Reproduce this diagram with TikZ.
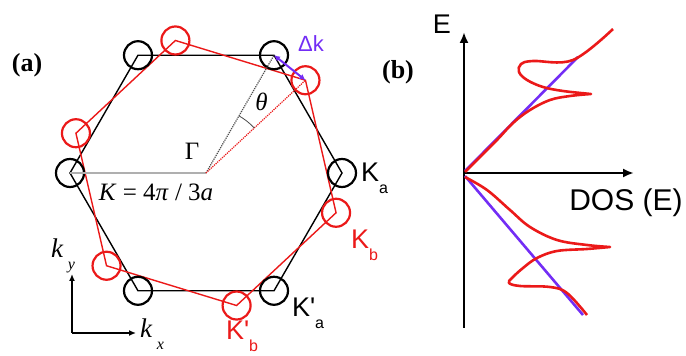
\documentclass[tikz,border=0pt]{standalone}
\usepackage{fontspec}
\setmainfont{Liberation Serif}
\newfontfamily\arialfont{Liberation Sans}
\usetikzlibrary{calc,arrows.meta}
\definecolor{kred}{RGB}{235,25,25}
\definecolor{kviolet}{RGB}{115,45,245}
\definecolor{kgray}{RGB}{175,175,175}
\newcommand\lowsub[1]{\raisebox{-0.42em}{\fontsize{16}{16}\selectfont #1}}

\begin{document}
\begin{tikzpicture}[x=1pt,y=1pt,every node/.style={inner sep=0pt,outer sep=0pt},
kring/.style={circle,draw,line width=2.2pt,minimum size=28pt},
sanslbl/.style={font=\arialfont\fontsize{27}{27}\selectfont},
seriflbl/.style={font=\fontsize{25}{25}\selectfont},
panellbl/.style={font=\bfseries\fontsize{26}{26}\selectfont},
axis/.style={line width=2.4pt,-{Latex[length=11pt,width=9pt]}},
kaxis/.style={line width=1.4pt,-{Latex[length=7pt,width=6pt]}}]
\useasboundingbox (0,0) rectangle (686,356);
\coordinate (G) at (206,183);
\foreach \i in {0,...,5} {
\coordinate (A\i) at ($(G)+({60*\i}:136)$);
\coordinate (B\i) at ($(G)+({60*\i+43}:136)$);
}
\draw[line width=1.4pt] (A0) \foreach \i in {1,...,5} {-- (A\i)} -- cycle;
\draw[kred,line width=1.4pt] (B0) \foreach \i in {1,...,5} {-- (B\i)} -- cycle;
\foreach \i in {0,...,5} {
\node[kring] (ringA\i) at (A\i) {};
\node[kring,kred] (ringB\i) at (B\i) {};
}
\draw[kgray,line width=1.3pt] (A3) -- (G);
\draw[black!70,line width=1.2pt,densely dotted] (G) -- (A1);
\draw[kred,line width=1.2pt,densely dotted] (G) -- (B0);
\draw[black!70,line width=0.8pt] ($(G)+(43:66)$) arc (43:60:66);
\draw[kviolet,line width=2pt,{Latex[length=6pt,width=6pt]}-{Latex[length=6pt,width=6pt]}] (A1) -- (B0);
\node[seriflbl] (Gamma) at (192,205) {Γ};
\node[seriflbl,font=\itshape\fontsize{25}{25}\selectfont] (theta) at ($(G)+(52:90)$) {θ};
\node[seriflbl] (Klen) at (156,164) {\textit{K} = 4\textit{π} / 3\textit{a}};
\node[sanslbl,kviolet,font=\arialfont\fontsize{22}{22}\selectfont] (dk) at (311,312) {Δk};
\node[sanslbl,anchor=base west] (Ka) at (361,174) {K\lowsub{a}};
\node[sanslbl,kred,anchor=base west] (Kb) at (351,107) {K\lowsub{b}};
\node[sanslbl,anchor=base west] (Kpa) at (292,39) {K'\lowsub{a}};
\node[sanslbl,kred,anchor=base west] (Kpb) at (226,16) {K'\lowsub{b}};
\coordinate (O) at (72,23);
\coordinate (kytip) at (72,82);
\coordinate (kxtip) at (136,23);
\draw[kaxis] (O) -- (kytip);
\draw[kaxis] (O) -- (kxtip);
\node[seriflbl,font=\fontsize{27}{27}\selectfont,anchor=base west] (ky) at (51,98) {\textit{k}\,\lowsub{\textit{y}}};
\node[seriflbl,font=\fontsize{27}{27}\selectfont,anchor=base west] (kx) at (140,18) {\textit{k}\,\lowsub{\textit{x}}};
\node[panellbl] (pa) at (27,291) {(a)};
\node[panellbl] (pb) at (398,284) {(b)};
\coordinate (O2) at (464,183);
\coordinate (Ebot) at (464,28);
\coordinate (Etop) at (464,324);
\coordinate (Dtip) at (634,183);
\draw[axis] (Ebot) -- (Etop);
\draw[axis] (O2) -- (Dtip);
\node[sanslbl] (E) at (442,332) {E};
\node[sanslbl,font=\arialfont\fontsize{30}{30}\selectfont] (dos) at (626,153) {DOS (E)};
\draw[kviolet,line width=2.6pt] (465,185) -- (578,299);
\draw[kviolet,line width=2.6pt] (465,180) -- (583,41);
\draw[kred,line width=2.6pt,line join=round] plot[smooth,tension=0.6] coordinates {(465,184) (480,199) (497,216) (513,233) (530,246) (550,256) (570,260) (591,262)}
-- plot[smooth,tension=0.6] coordinates {(591,262) (563,265) (543,269) (527,276) (519,284) (521,292) (533,295) (573,296) (613,327)};
\draw[kred,line width=2.6pt,line join=round] plot[smooth,tension=0.6] coordinates {(465,179) (487,166) (510,146) (530,129) (557,116) (587,111) (610,109)}
-- plot[smooth,tension=0.6] coordinates {(610,109) (587,107) (557,105) (537,98) (523,88) (512,78) (509,73) (520,70) (550,69) (567,63) (587,41)};
\end{tikzpicture}
\end{document}
